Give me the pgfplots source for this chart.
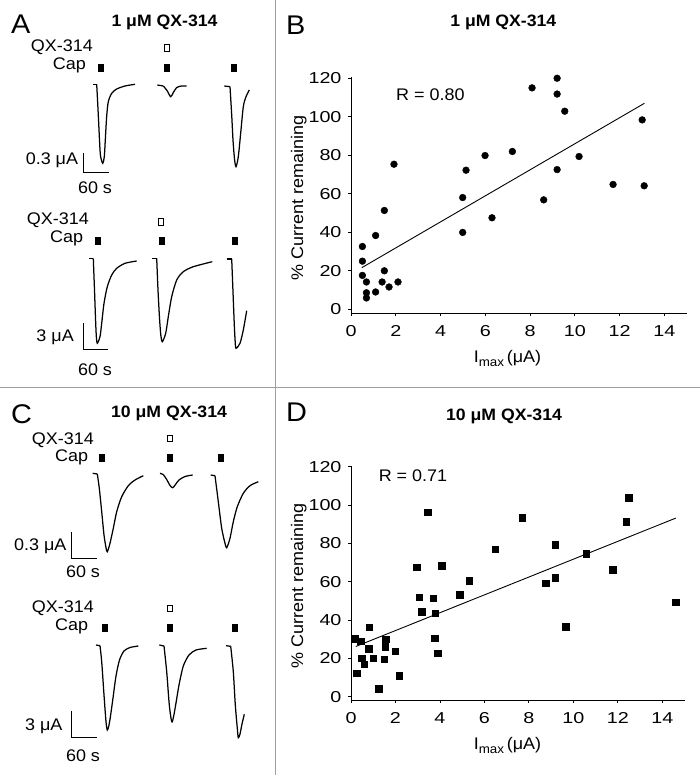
\documentclass[border=0pt]{standalone}
\usepackage{fontspec}
\setmainfont{Liberation Sans}[FakeStretch=1.07]
\newfontfamily\tickfont{Liberation Sans}[FakeStretch=1.25]
\usepackage{pgfplots}
\pgfplotsset{compat=1.18}
\newcommand\lbl{\fontsize{16.8}{19}\selectfont}
\newcommand\ttl{\fontsize{16.5}{19}\selectfont\bfseries}
\newcommand\pl{\fontsize{27}{30}\selectfont}
\newcommand\imax{I\raisebox{-0.45ex}{\fontsize{12.5}{14}\selectfont max}\,(μA)}
\pgfplotsset{
  trace/.style={black, line width=1.25pt, no markers},
  tracec/.style={black, line width=1.25pt, no markers, smooth, tension=0.45},
  capmark/.style={only marks, mark=square*, mark size=3.6pt, mark options={xscale=0.72, black, fill=black}},
  qxmark/.style={only marks, mark=square, mark size=3.3pt, mark options={xscale=0.68, black, line width=0.8pt}},
  scat/.style={scale only axis, xmin=0, xmax=15,
    axis x line*=bottom, axis y line*=left,
    axis line style={black, line width=0.9pt, -},
    tick align=outside, major tick length=3pt,
    tick style={black, line width=0.9pt},
    xtick={0,2,...,14}, ytick={0,20,...,120},
    tick label style={font=\tickfont\fontsize{15.8}{18}\selectfont},
    xticklabel style={yshift=-6pt},
    yticklabel style={xshift=-3pt},
    /pgf/number format/assume math mode=true, clip=false}
}
\begin{document}
\begin{tikzpicture}
% ---------- background axis in image pixel coordinates: traces, labels ----------
\begin{axis}[at={(0,0)}, anchor=south west, scale only axis, width=700pt, height=775pt,
  xmin=0, xmax=700, ymin=0, ymax=775, y dir=reverse, hide axis, clip=false]
% dividers
\draw[gray!75, line width=1.4pt] (axis cs:275.5,0) -- (axis cs:275.5,775);
\draw[gray!75, line width=1.4pt] (axis cs:0,387.5) -- (axis cs:700,387.5);
% panel letters and titles
\node[anchor=base west, inner sep=0, font=\pl] at (axis cs:11,33.3) {A};
\node[anchor=base west, inner sep=0, font=\pl] at (axis cs:286,35) {B};
\node[anchor=base west, inner sep=0, font=\pl] at (axis cs:11,423.3) {C};
\node[anchor=base west, inner sep=0, font=\pl] at (axis cs:286,421.7) {D};
\node[anchor=base, inner sep=0, font=\ttl] at (axis cs:164.5,26.7) {1 μM QX-314};
\node[anchor=base, inner sep=0, font=\ttl] at (axis cs:503.3,26.7) {1 μM QX-314};
\node[anchor=base, inner sep=0, font=\ttl] at (axis cs:169,417.7) {10 μM QX-314};
\node[anchor=base, inner sep=0, font=\ttl] at (axis cs:504,420.7) {10 μM QX-314};
% ---- A top ----
\node[anchor=base east, inner sep=0, font=\lbl] at (axis cs:93,51.5) {QX-314};
\node[anchor=base east, inner sep=0, font=\lbl] at (axis cs:86,69.3) {Cap};
\addplot[qxmark] coordinates {(167,48)};
\addplot[capmark] coordinates {(101,68) (167,68) (234,68)};
\addplot[trace] coordinates {(93.3,84.3) (96.7,84.3)};
\addplot[tracec] coordinates {(96.7,84.3) (98.3,115) (99.5,140) (100.5,156) (102.7,163.3) (104.3,156.7) (105.3,140) (106.7,116) (108.3,101.7) (111.7,93.3) (116.7,89) (125,86) (135,84.3)};
\addplot[trace] coordinates {(157.3,85) (163.3,86)};
\addplot[tracec] coordinates {(163.3,86) (167,90.5) (170.7,96.7) (173.3,92.5) (176.7,87.5) (180,86.2) (186.7,86)};
\addplot[trace] coordinates {(224.3,86) (230,86.7)};
\addplot[tracec] coordinates {(230,86.7) (231.7,115) (233,140) (234.5,159) (236,166.7) (238.3,156.7) (240.7,133) (243.3,106.7) (246,96.7) (249.3,90)};
\draw[black, line width=1.1pt] (axis cs:83.3,153.3) -- (axis cs:83.3,172.7) -- (axis cs:109.3,172.7);
\node[anchor=base east, inner sep=0, font=\lbl] at (axis cs:78.3,164.3) {0.3 μA};
\node[anchor=base, inner sep=0, font=\lbl] at (axis cs:95,193.3) {60 s};
% ---- A bottom ----
\node[anchor=base east, inner sep=0, font=\lbl] at (axis cs:89,225) {QX-314};
\node[anchor=base east, inner sep=0, font=\lbl] at (axis cs:83.3,242.7) {Cap};
\addplot[qxmark] coordinates {(161,221.7)};
\addplot[capmark] coordinates {(97.3,241) (161.7,241) (235,241)};
\addplot[trace] coordinates {(89.3,258.3) (93.3,258.3)};
\addplot[tracec] coordinates {(93.3,258.3) (94.5,290) (95.5,318) (96.3,336) (97.3,343.3) (100,336.7) (101.7,323.3) (104,303.3) (107.3,286.7) (111.7,275) (116.7,268.3) (125,263.3) (136.7,261)};
\addplot[trace] coordinates {(151.7,258.3) (156.7,258.3)};
\addplot[tracec] coordinates {(156.7,258.3) (158,290) (159.5,318) (160.8,335) (162.3,341.7) (165.7,333.3) (168.3,316.7) (171.7,296.7) (176.7,280) (183.3,271.7) (193.3,266.7) (212.3,261.7)};
\addplot[trace] coordinates {(226.7,259) (231.7,259)};
\addplot[tracec] coordinates {(231.7,259) (233,292) (234.3,325) (235.2,342) (236,348.3) (240,343.3) (243.3,330) (246.7,310.7)};
\draw[black, line width=1.1pt] (axis cs:83.3,323.3) -- (axis cs:83.3,349.8) -- (axis cs:108.3,349.8);
\node[anchor=base east, inner sep=0, font=\lbl] at (axis cs:74,341.7) {3 μA};
\node[anchor=base, inner sep=0, font=\lbl] at (axis cs:95,375) {60 s};
% ---- C top ----
\node[anchor=base east, inner sep=0, font=\lbl] at (axis cs:94,444) {QX-314};
\node[anchor=base east, inner sep=0, font=\lbl] at (axis cs:88.3,461.7) {Cap};
\addplot[qxmark] coordinates {(170,438.3)};
\addplot[capmark] coordinates {(101.7,457.3) (170,457.3) (220.7,457.3)};
\addplot[trace] coordinates {(92.7,473.3) (97.3,474)};
\addplot[tracec] coordinates {(97.3,474) (99.3,488.3) (101.7,511.7) (104,535) (106,547.7) (107.3,551.7) (110,543.3) (113.3,528.3) (116.7,511.7) (121.7,496.7) (128.3,485.7) (135,480) (143.3,475.7)};
\addplot[trace] coordinates {(160,473.3) (163.3,474.5)};
\addplot[tracec] coordinates {(163.3,474.5) (167,480) (170,485.5) (172.7,487.7) (175.5,484.5) (179,480) (185,476.5) (192.7,475)};
\addplot[trace] coordinates {(210.7,475) (215,475.7)};
\addplot[tracec] coordinates {(215,475.7) (218.3,501.7) (221.7,528.3) (225,543.3) (226.7,547.7) (230,538.3) (233.3,521.7) (237.3,506.7) (243.3,493.3) (250,485.7) (258.3,481.7)};
\draw[black, line width=1.1pt] (axis cs:71.7,531.7) -- (axis cs:71.7,558.3) -- (axis cs:97.3,558.3);
\node[anchor=base east, inner sep=0, font=\lbl] at (axis cs:66.7,550) {0.3 μA};
\node[anchor=base, inner sep=0, font=\lbl] at (axis cs:83,577.7) {60 s};
% ---- C bottom ----
\node[anchor=base east, inner sep=0, font=\lbl] at (axis cs:94,612) {QX-314};
\node[anchor=base east, inner sep=0, font=\lbl] at (axis cs:88.3,630) {Cap};
\addplot[qxmark] coordinates {(170,608.3)};
\addplot[capmark] coordinates {(104.3,627.3) (170,627.3) (235,627.3)};
\addplot[trace] coordinates {(96,645) (100,645.7)};
\addplot[tracec] coordinates {(100,645.7) (101.7,661.7) (104,695) (106,721.7) (107.3,730) (108.8,726) (110.5,716) (113,698) (116,676) (119.5,660) (124,651) (130,647.5) (138.3,646)};
\addplot[trace] coordinates {(159.3,645) (164,646)};
\addplot[tracec] coordinates {(164,646) (166.7,671.7) (169.3,705) (171.7,721.7) (173.5,717) (176,703) (179,685) (183.3,666) (189,655) (196,650) (206.7,648.3)};
\addplot[trace] coordinates {(226,645.7) (230.7,646.3)};
\addplot[tracec] coordinates {(230.7,646.3) (233.3,671.7) (235.3,705) (237.3,728.3) (238.3,737.7) (240,734) (242,724) (244.3,714.3)};
\draw[black, line width=1.1pt] (axis cs:71.7,711) -- (axis cs:71.7,737.7) -- (axis cs:97.3,737.7);
\node[anchor=base east, inner sep=0, font=\lbl] at (axis cs:62.7,730) {3 μA};
\node[anchor=base, inner sep=0, font=\lbl] at (axis cs:83,761) {60 s};
% ---- B / D labels ----
\node[anchor=base, inner sep=0, font=\lbl] at (axis cs:430.3,101) {R = 0.80};
\node[anchor=base, inner sep=0, font=\lbl] at (axis cs:413,481) {R = 0.71};
\node[anchor=base, inner sep=0, rotate=90, font=\lbl] at (axis cs:303,198) {\% Current remaining};
\node[anchor=base, inner sep=0, rotate=90, font=\lbl] at (axis cs:303,586) {\% Current remaining};
\node[anchor=base, inner sep=0, font=\lbl] at (axis cs:507.5,362.3) {\imax};
\node[anchor=base, inner sep=0, font=\lbl] at (axis cs:507.5,749.6) {\imax};
\end{axis}
% ---------- B scatter ----------
\begin{axis}[scat, at={(351pt,461.8pt)}, anchor=south west, width=335.7pt, height=236.1pt,
  ymin=-2, ymax=120.5]
\addplot[only marks, mark=*, mark size=3.4pt, black] coordinates {
(0.51,32.6) (0.51,25.0) (0.51,17.6) (0.69,14.2) (0.69,8.6) (0.69,5.9)
(1.10,38.3) (1.10,9.0) (1.39,14.2) (1.49,51.3) (1.49,20.0) (1.70,11.6)
(1.92,75.3) (2.10,14.2) (4.99,58.0) (4.99,39.9) (5.14,72.2) (5.99,79.8)
(6.30,47.5) (7.21,81.9) (8.09,114.9) (8.61,56.8) (9.21,119.9) (9.21,111.7)
(9.21,72.5) (9.55,102.8) (10.19,79.3) (11.71,64.8) (13.01,98.3) (13.10,64.1)};
\addplot[black, line width=0.9pt, no markers] coordinates {(0.48,21.6) (13.11,106.9)};
\end{axis}
% ---------- D scatter ----------
\begin{axis}[scat, at={(351pt,75pt)}, anchor=south west, width=333.6pt, height=233.8pt,
  ymin=-1.7, ymax=120.3]
\addplot[only marks, mark=square*, mark size=3.3pt, black] coordinates {
(0.18,30.2) (0.25,12.2) (0.43,29.0) (0.49,20.1) (0.60,16.9) (0.79,25.1)
(0.82,36.3) (1.00,20.1) (1.24,4.2) (1.50,19.5) (1.54,26.0) (1.57,30.0)
(1.99,23.7) (2.17,11.0) (2.95,67.5) (3.07,52.0) (3.19,44.5) (3.46,96.2)
(3.70,51.5) (3.75,30.5) (3.78,43.5) (3.90,22.7) (4.09,68.4) (4.90,53.1)
(5.32,60.6) (6.49,77.0) (7.69,93.5) (8.76,59.3) (9.19,79.2) (9.19,62.0)
(9.64,36.5) (10.58,74.7) (11.78,66.3) (12.38,91.3) (12.49,104.0) (14.59,49.4)};
\addplot[black, line width=0.9pt, no markers] coordinates {(0.21,26.2) (14.6,93.2)};
\end{axis}
\pgfresetboundingbox
\path[use as bounding box] (0,0) rectangle (700pt,775pt);
\end{tikzpicture}
\end{document}
